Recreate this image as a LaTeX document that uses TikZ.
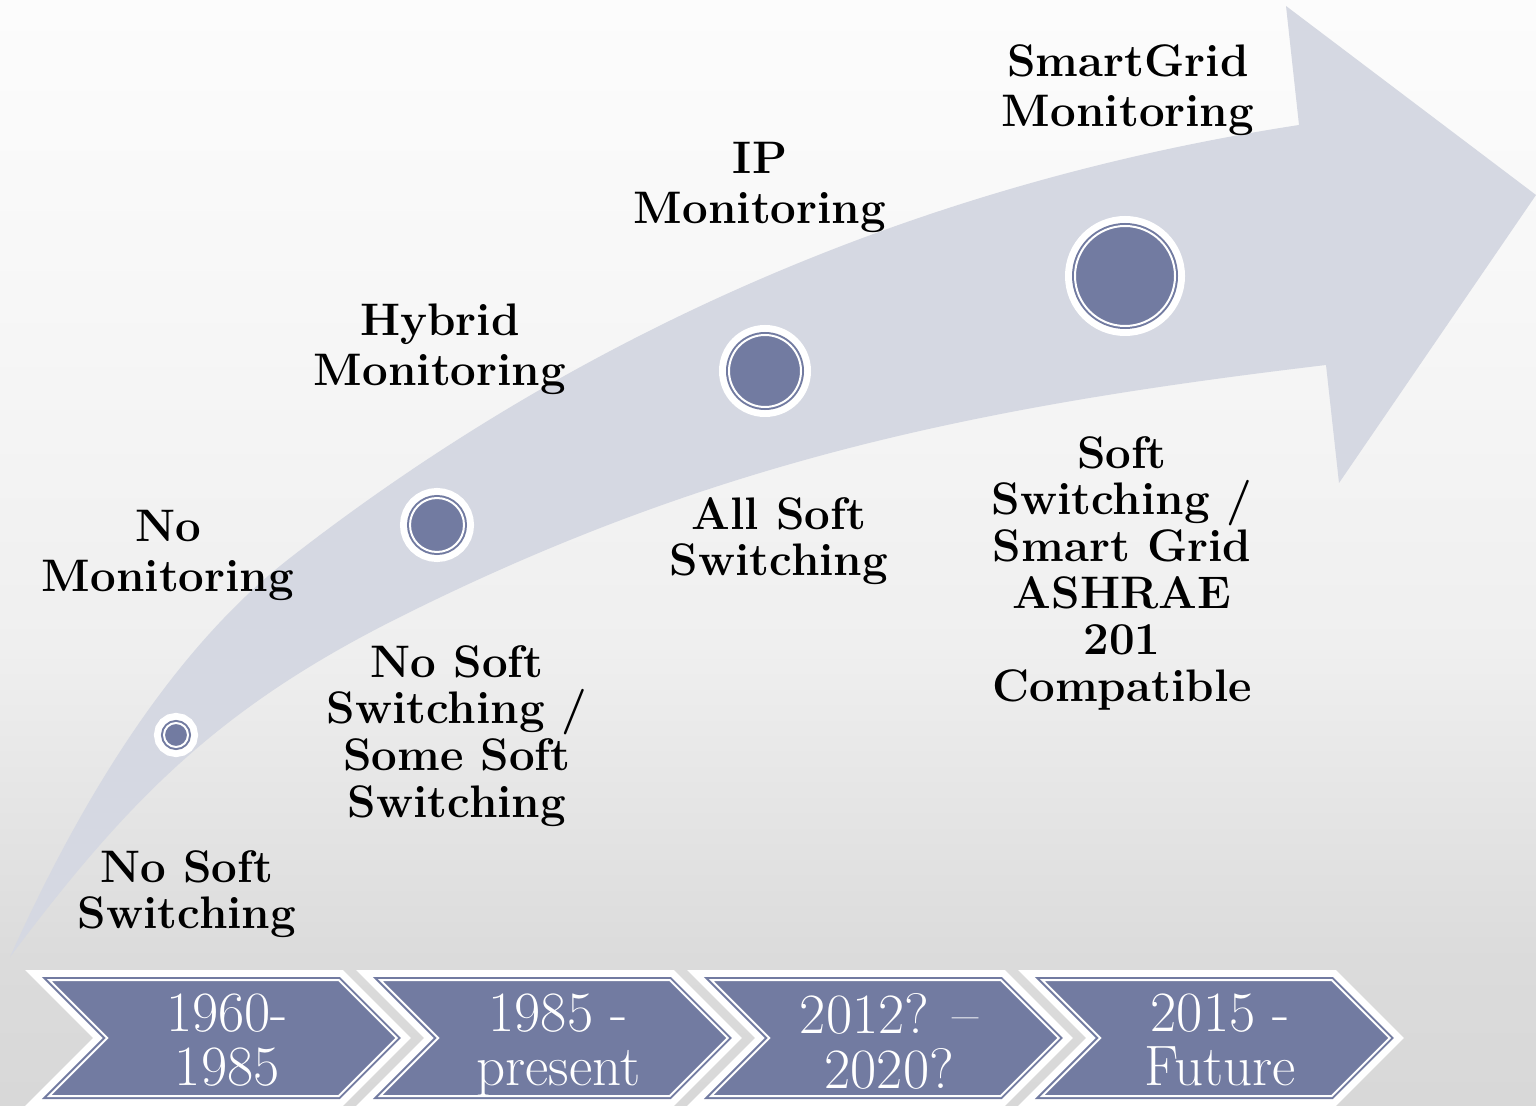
\documentclass[tikz,border=0pt]{standalone}

\definecolor{bandgray}{RGB}{213,216,226}
\definecolor{dotblue}{RGB}{114,123,161}
\definecolor{bgtop}{RGB}{252,252,252}
\definecolor{bghigh}{RGB}{247,247,247}
\definecolor{bgmid}{RGB}{239,239,239}
\definecolor{bglow}{RGB}{219,219,219}
\definecolor{bgbot}{RGB}{216,216,216}
\pgfdeclareverticalshading{bggrad}{100bp}{color(0bp)=(bgbot); color(25bp)=(bgbot);
  color(31.6bp)=(bglow); color(45.6bp)=(bgmid); color(61.4bp)=(bghigh);
  color(75bp)=(bgtop); color(100bp)=(bgtop)}

\begin{document}
\begin{tikzpicture}[
      x=0.5pt, y=-0.5pt,
      ringed/.style={fill=dotblue, draw=dotblue, line width=1pt,
                     double=white, double distance=1pt,
                     preaction={draw=white, line width=10pt}},
      dot/.style={ringed, circle, inner sep=0pt, minimum size=#1},
      milestone/.style={font=\fontsize{22.8}{25}\selectfont\bfseries,
                        align=center, anchor=north, inner sep=0pt},
      stage/.style={milestone, font=\fontsize{22.8}{23.3}\selectfont\bfseries},
      period/.style={font=\fontsize{28.5}{27.3}\selectfont, text=white,
                     align=center, anchor=north, inner sep=0pt}
    ]
      \useasboundingbox (0,0) rectangle (1536,1106);
      \shade[shading=bggrad] (0,0) rectangle (1536,1106);

      \fill[bandgray] (10,957) .. controls (100,757) and (195,632) .. (290,558)
        .. controls (566.5,342.75) and (903.8,185.8) .. (1299,125)
        -- (1286,6) -- (1536,195) -- (1339,483) -- (1326,365)
        .. controls (978.5,406.3) and (713,460.6) .. (400,617)
        .. controls (221,706.4) and (130,797) .. (10,957) -- cycle;

      \node[dot=12pt] (dot1) at (176,735) {};
      \node[dot=27pt] (dot2) at (437,525) {};
      \node[dot=36pt] (dot3) at (765,371) {};
      \node[dot=50pt] (dot4) at (1125,276) {};

      \node[milestone] (nomon) at (168,510) {No\\Monitoring};
      \node[milestone] (hybmon) at (440,303) {Hybrid\\Monitoring};
      \node[milestone] (ipmon) at (760,142) {IP\\Monitoring};
      \node[milestone] (gridmon) at (1128,44) {SmartGrid\\Monitoring};

      \node[stage] (nosoft) at (187,850) {No Soft\\Switching};
      \node[stage] (somesoft) at (457,645) {No Soft\\Switching /\\Some Soft\\Switching};
      \node[stage] (allsoft) at (779,497) {All Soft\\Switching};
      \node[stage] (gridsoft) at (1122,436)
        {Soft\\Switching /\\Smart Grid\\ASHRAE\\201\\Compatible};

      \foreach \yr [count=\i from 0] in {{1960-\\1985}, {1985 -\\present},
                                         {2012? --\\2020?}, {2015 -\\Future}} {
        \pgfmathsetmacro{\xa}{49.2+331*\i}
        \path[ringed] (\xa,980) -- ++(289.5,0) -- ++(58,58) -- ++(-58,58)
          -- ++(-289.5,0) -- ++(58,-58) -- cycle;
        \node[period] (yr\i) at (\xa+178,993) {\yr};
      }
    \end{tikzpicture}
\end{document}
